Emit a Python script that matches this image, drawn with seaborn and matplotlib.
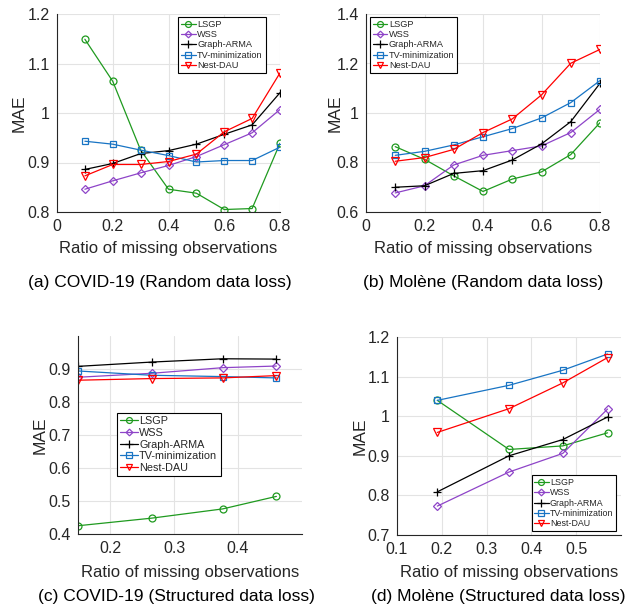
import matplotlib
matplotlib.use("Agg")
import matplotlib.pyplot as plt
import seaborn as sns
import pandas as pd

methods = ["LSGP", "WSS", "Graph-ARMA", "TV-minimization", "Nest-DAU"]
colors = ["#1f9a1f", "#8e44c8", "#000000", "#1874c4", "#ff0000"]
markers = ["o", "D", "+", "s", "v"]

# (a) COVID-19, random loss
x_a = [0.1, 0.2, 0.3, 0.4, 0.5, 0.6, 0.7, 0.8]
a_lsgp = [1.149, 1.064, 0.925, 0.846, 0.838, 0.805, 0.807, 0.939]
a_wss = [0.846, 0.863, 0.879, 0.894, 0.912, 0.936, 0.960, 1.007]
a_arma = [0.886, 0.898, 0.918, 0.924, 0.937, 0.957, 0.976, 1.041]
a_tv = [0.943, 0.937, 0.925, 0.914, 0.901, 0.904, 0.904, 0.931]
a_dau = [0.873, 0.896, 0.896, 0.902, 0.917, 0.962, 0.989, 1.081]

# (b) Molene, random loss
x_b = [0.1, 0.2, 0.3, 0.4, 0.5, 0.6, 0.7, 0.8]
b_lsgp = [0.864, 0.813, 0.746, 0.683, 0.733, 0.762, 0.832, 0.961]
b_wss = [0.677, 0.706, 0.790, 0.829, 0.848, 0.867, 0.921, 1.015]
b_arma = [0.700, 0.706, 0.756, 0.767, 0.810, 0.875, 0.965, 1.120]
b_tv = [0.829, 0.845, 0.871, 0.904, 0.937, 0.980, 1.042, 1.131]
b_dau = [0.805, 0.820, 0.853, 0.921, 0.976, 1.073, 1.201, 1.257]

# (c) COVID-19, structured loss
x_c = [0.15, 0.265, 0.376, 0.46]
c_lsgp = [0.425, 0.448, 0.476, 0.514]
c_wss = [0.875, 0.887, 0.904, 0.909]
c_arma = [0.908, 0.921, 0.931, 0.930]
c_tv = [0.894, 0.881, 0.877, 0.873]
c_dau = [0.866, 0.871, 0.873, 0.880]

# (d) Molene, structured loss
x_d = [0.19, 0.35, 0.47, 0.57]
d_lsgp = [1.040, 0.916, 0.925, 0.958]
d_wss = [0.773, 0.859, 0.906, 1.018]
d_arma = [0.809, 0.900, 0.941, 0.998]
d_tv = [1.040, 1.078, 1.116, 1.157]
d_dau = [0.959, 1.019, 1.084, 1.148]

panels = [
    dict(x=x_a, ys=[a_lsgp, a_wss, a_arma, a_tv, a_dau], rect=[57, 14, 280, 212],
         xlim=(0, 0.8), xticks=[0, 0.2, 0.4, 0.6, 0.8], xtl=["0", "0.2", "0.4", "0.6", "0.8"],
         ylim=(0.8, 1.2), yticks=[0.8, 0.9, 1.0, 1.1, 1.2], ytl=["0.8", "0.9", "1", "1.1", "1.2"],
         leg=("upper right", (0.935, 0.985)), legfs=6.6, mae_x=19,
         xlab_y=248, cap="(a) COVID-19 (Random data loss)", cap_x=160, cap_y=282),
    dict(x=x_b, ys=[b_lsgp, b_wss, b_arma, b_tv, b_dau], rect=[366, 14, 600, 212],
         xlim=(0, 0.8), xticks=[0, 0.2, 0.4, 0.6, 0.8], xtl=["0", "0.2", "0.4", "0.6", "0.8"],
         ylim=(0.6, 1.4), yticks=[0.6, 0.8, 1.0, 1.2, 1.4], ytl=["0.6", "0.8", "1", "1.2", "1.4"],
         leg=("upper left", (0.017, 0.985)), legfs=6.6, mae_x=335,
         xlab_y=248, cap="(b) Molène (Random data loss)", cap_x=483, cap_y=282),
    dict(x=x_c, ys=[c_lsgp, c_wss, c_arma, c_tv, c_dau], rect=[78, 336, 302, 534],
         xlim=(0.15, 0.5), xticks=[0.2, 0.3, 0.4], xtl=["0.2", "0.3", "0.4"],
         ylim=(0.4, 1.0), yticks=[0.4, 0.5, 0.6, 0.7, 0.8, 0.9], ytl=["0.4", "0.5", "0.6", "0.7", "0.8", "0.9"],
         leg=("upper left", (0.174, 0.611)), legfs=7.8, mae_x=40,
         xlab_y=572, cap="(c) COVID-19 (Structured data loss)", cap_x=176, cap_y=596),
    dict(x=x_d, ys=[d_lsgp, d_wss, d_arma, d_tv, d_dau], rect=[397, 337, 621, 535],
         xlim=(0.1, 0.6), xticks=[0.1, 0.2, 0.3, 0.4, 0.5], xtl=["0.1", "0.2", "0.3", "0.4", "0.5"],
         ylim=(0.7, 1.2), yticks=[0.7, 0.8, 0.9, 1.0, 1.1, 1.2], ytl=["0.7", "0.8", "0.9", "1", "1.1", "1.2"],
         leg=("lower right", (0.978, 0.02)), legfs=6.4, mae_x=360,
         xlab_y=572, cap="(d) Molène (Structured data loss)", cap_x=498, cap_y=596),
]

sns.set_theme(style="whitegrid")
plt.rcParams["font.family"] = ["Liberation Sans", "DejaVu Sans"]

W, H = 636, 611
fig = plt.figure(figsize=(W / 100, H / 100), dpi=100)
fig.patch.set_facecolor("white")
txt = "#262626"
msizes = {"o": 5, "D": 4, "+": 6, "s": 4.5, "v": 5.5}

for p in panels:
    l, t, r, b = p["rect"]
    ax = fig.add_axes([l / W, 1 - b / H, (r - l) / W, (b - t) / H])
    for name, ys, c, m in zip(methods, p["ys"], colors, markers):
        df = pd.DataFrame({"x": p["x"], "y": ys})
        sns.lineplot(data=df, x="x", y="y", ax=ax, color=c, marker=m, label=name,
                     linewidth=0.9, markersize=msizes[m],
                     markerfacecolor="none", markeredgecolor=c, markeredgewidth=0.9)
    ax.set_xlim(*p["xlim"])
    ax.set_ylim(*p["ylim"])
    ax.set_xticks(p["xticks"])
    ax.set_xticklabels(p["xtl"])
    ax.set_yticks(p["yticks"])
    ax.set_yticklabels(p["ytl"])
    ax.set_xlabel("")
    ax.set_ylabel("")
    ax.set_facecolor("white")
    ax.grid(True, color="#e3e3e3", linewidth=0.8)
    for s in ["top", "right"]:
        ax.spines[s].set_visible(False)
    for s in ["left", "bottom"]:
        ax.spines[s].set_color(txt)
        ax.spines[s].set_linewidth(0.8)
    ax.tick_params(axis="both", direction="in", length=3, width=0.6, color=txt,
                   labelsize=11.5, labelcolor=txt, pad=5)
    loc, anchor = p["leg"]
    leg = ax.legend(loc=loc, bbox_to_anchor=anchor, fontsize=p["legfs"], frameon=True,
                    fancybox=False, edgecolor="black", framealpha=1,
                    handlelength=1.6, handletextpad=0.15, labelspacing=0.15,
                    borderpad=0.3, borderaxespad=0, markerscale=0.85)
    leg.get_frame().set_linewidth(0.8)
    cx = (l + r) / 2
    fig.text(cx / W, 1 - p["xlab_y"] / H, "Ratio of missing observations",
             ha="center", va="center", fontsize=12, color=txt)
    fig.text(p["mae_x"] / W, 1 - ((t + b) / 2) / H, "MAE", rotation=90,
             ha="center", va="center", fontsize=12.5, color=txt)
    fig.text(p["cap_x"] / W, 1 - p["cap_y"] / H, p["cap"],
             ha="center", va="center", fontsize=12.5, color="black")

fig.savefig("out.png", dpi=100)
